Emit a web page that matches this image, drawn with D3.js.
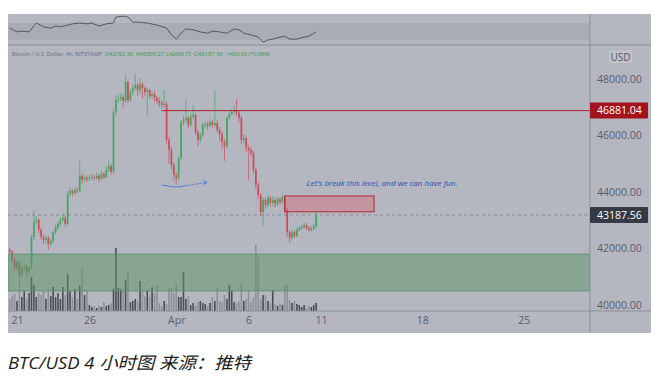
<!DOCTYPE html>

<head>
    <title>BTC/USD 4h</title>
    <meta charset="utf-8" />
</head>

<style>
    body {
        margin: 0;
        background-color: #ffffff;
    }

    svg text {
        font-family: "Open Sans", "Noto Sans", sans-serif;
    }

    .axis path,
    .axis line {
        display: none;
    }

    .axis text {
        fill: #5b5e69;
        font-size: 10.5px;
    }

    .caption {
        font-family: "Open Sans", "Noto Sans CJK SC", sans-serif !important;
        font-style: italic;
        font-size: 17px;
        fill: #1a1a1a;
    }
</style>

<body>
    <svg id="chart" width="668" height="385"></svg>
    <script src="https://d3js.org/d3.v7.min.js"></script>

    <script>
        // 4h candles, first one opens 2022-03-20 12:00 UTC
        var firstTime = Date.UTC(2022, 2, 20, 12);
        var firstOpen = 41950;

        var closes = [41880, 41590, 41310, 41520, 41060, 41310, 41380, 41170, 41310, 42410,
            42940, 43010, 42660, 42410, 42300, 42370, 42160, 42270, 42580, 42730,
            42870, 43010, 43080, 42870, 43930, 44040, 43960, 44070, 44040, 44570,
            44430, 44500, 44460, 44500, 44530, 44500, 44570, 44460, 44640, 44530,
            44780, 44920, 44710, 46830, 47260, 47290, 47360, 47220, 47890, 47260,
            47540, 47680, 47790, 47610, 47820, 47680, 47540, 47610, 47400, 47470,
            47330, 47220, 47150, 47080, 47120, 45840, 45490, 44960, 44600, 44500,
            45200, 46480, 46550, 46620, 46370, 46660, 46730, 46120, 45840, 46020,
            46370, 46410, 46340, 46480, 46370, 46440, 46200, 46050, 45770, 45630,
            46620, 46760, 46830, 46900, 46800, 46620, 45840, 45910, 45560, 45490,
            45380, 44780, 44250, 43890, 43290, 43720, 43540, 43790, 43610, 43720,
            43580, 43750, 43650, 43820, 43360, 42580, 42370, 42580, 42440, 42660,
            42730, 42760, 42830, 42730, 42660, 42700, 42782.38, 43187.56];

        var highs = [42050, 41950, 41700, 41600, 41600, 41400, 41500, 41450, 41400, 42500,
            43360, 43150, 43100, 42750, 42500, 42450, 42450, 42350, 42650, 42850,
            42950, 43100, 43250, 43150, 44050, 44150, 44100, 44180, 44150, 45100,
            44650, 44600, 44580, 44600, 44650, 44620, 44700, 44650, 44750, 44700,
            44900, 45100, 45000, 46950, 47400, 47450, 47500, 47450, 48150, 47950,
            47650, 47800, 48190, 47900, 48050, 47900, 47750, 47700, 47650, 47550,
            47600, 47400, 47350, 47250, 47610, 47200, 45950, 45600, 45050, 44700,
            45300, 46550, 46700, 47260, 46700, 46800, 47050, 46800, 46200, 46100,
            46450, 46500, 46500, 46600, 46550, 47610, 46550, 46300, 46150, 45850,
            46700, 46850, 46950, 47050, 47290, 46900, 46700, 46050, 46000, 45650,
            45600, 45450, 44850, 44350, 43950, 43800, 43800, 43900, 43850, 43850,
            43800, 43850, 43800, 43900, 43900, 43450, 42650, 42650, 42650, 42750,
            42800, 42850, 42950, 42900, 42800, 42800, 42900, 43305.27];

        var lows = [41800, 41500, 41200, 41250, 40600, 40950, 41200, 41000, 41100, 41250,
            42300, 42850, 42550, 42300, 42150, 42200, 41950, 42050, 42200, 42500,
            42650, 42800, 42950, 42750, 42800, 43850, 43850, 43900, 43950, 44000,
            44300, 44350, 44350, 44380, 44420, 44400, 44420, 44350, 44400, 44450,
            44480, 44700, 44600, 44650, 46700, 47150, 47200, 47000, 47150, 47150,
            47200, 47450, 47600, 47400, 47500, 47300, 47400, 46700, 47300, 47300,
            47200, 47100, 47000, 46950, 47000, 45700, 45000, 44800, 44400, 44250,
            44400, 45100, 46350, 46450, 46250, 46300, 46600, 46000, 45600, 45750,
            45950, 46250, 46200, 46300, 46250, 46300, 46100, 45800, 45500, 45100,
            45550, 46550, 46700, 46750, 46700, 46450, 45700, 45700, 45400, 44430,
            45250, 44650, 44100, 43750, 43150, 42800, 43400, 43450, 43500, 43500,
            43450, 43500, 43550, 43600, 43250, 42400, 42200, 42300, 42350, 42400,
            42600, 42650, 42700, 42650, 42600, 42600, 42650, 42698.15];

        var volumes = [12, 15, 17, 10, 22, 14, 20, 12, 18, 34,
            26, 14, 18, 16, 20, 12, 22, 15, 24, 14,
            18, 12, 24, 16, 37, 20, 14, 22, 12, 25,
            42, 16, 20, 6, 4, 5, 3, 5, 4, 9,
            5, 6, 8, 22, 63, 23, 22, 20, 31, 41,
            9, 10, 12, 10, 30, 20, 15, 21, 14, 24,
            18, 26, 8, 5, 10, 7, 23, 23, 18, 27,
            14, 14, 39, 12, 15, 6, 8, 5, 9, 10,
            8, 7, 5, 8, 14, 10, 23, 10, 9, 16,
            12, 26, 21, 9, 8, 10, 28, 10, 12, 21,
            9, 14, 66, 54, 12, 16, 16, 10, 8, 21,
            7, 5, 8, 6, 26, 26, 11, 8, 10, 7,
            6, 4, 6, 3, 5, 4, 6, 8];

        // oscillator pane (candle index, value)
        var oscAt = [0, 3, 5, 8, 10, 11, 14, 17, 19, 21, 24, 26, 29, 32, 34, 37, 40, 43, 44, 47,
            49, 51, 53, 57, 61, 65, 67, 69, 71, 73, 76, 79, 82, 84, 87, 90, 93, 95, 97, 100,
            103, 105, 107, 109, 112, 114, 116, 119, 122, 124, 127];
        var oscVals = [58, 49, 51, 49, 63, 70, 61, 58, 63, 61, 65, 68, 70, 68, 70, 63, 68, 70, 84, 86,
            84, 72, 72, 70, 65, 58, 42, 32, 46, 56, 54, 49, 46, 51, 49, 46, 56, 54, 46, 42,
            37, 25, 30, 32, 37, 39, 32, 32, 37, 39, 49];

        var priceTicks = [40000, 42000, 44000, 46000, 48000];
        var dateTicks = ["2022-03-21", "2022-03-26", "2022-04-01", "2022-04-06", "2022-04-11", "2022-04-18", "2022-04-25"];

        var resistance = 46881.04;
        var lastPrice = 43187.56;
        var greenZone = [40500, 41800];
        var redBox = [43300, 43860];
        var redBoxDates = ["2022-04-08T12:00Z", "2022-04-14T16:00Z"];
        var resistanceFrom = "2022-03-31T00:00Z";
        var arrowSolid = [["2022-03-31T00:00Z", 44250], ["2022-04-01T00:00Z", 44180], ["2022-04-01T18:00Z", 44230]];
        var arrowDash = [["2022-04-01T18:00Z", 44230], ["2022-04-02T12:00Z", 44290], ["2022-04-03T03:00Z", 44340]];
        var note = { t: "2022-04-10T00:00Z", p: 44200, text: "Let's break this level, and we can have fun." };

        var legendParts = [
            { x: 12, w: 90, text: "Bitcoin / U.S. Dollar, 4h, BITSTAMP", c: "#6a6d78" },
            { x: 105, w: 28, text: "O42782.38", c: "#2f9d4c" },
            { x: 136, w: 28, text: "H43305.27", c: "#2f9d4c" },
            { x: 166, w: 25, text: "L42698.15", c: "#2f9d4c" },
            { x: 194, w: 29, text: "C43187.56", c: "#2f9d4c" },
            { x: 227, w: 43, text: "+420.86 (+0.98%)", c: "#2f9d4c" }
        ];

        var candles = closes.map(function(c, i) {
            return {
                t: new Date(firstTime + i * 4 * 3600 * 1000),
                o: i ? closes[i - 1] : firstOpen,
                h: highs[i],
                l: lows[i],
                c: c,
                v: volumes[i]
            };
        });

        // layout
        var panel = { left: 8, right: 651, top: 14, bottom: 333 };
        var plotRight = 590,
            oscBottom = 45,
            dateLine = 311;

        var svg = d3.select("#chart");

        var x = d3.scaleUtc()
            .domain([new Date("2022-03-21"), new Date("2022-04-11")])
            .range([17, 321]);
        var y = d3.scaleLinear().domain([40000, 48000]).range([305, 79]);
        var yVol = d3.scaleLinear().domain([0, 66]).range([dateLine, dateLine - 66]);
        var yOsc = d3.scaleLinear().domain([30, 70]).range([40, 23]);

        var green = "#3fa85e",
            red = "#d04a5b";

        svg.append("rect")
            .attr("x", panel.left).attr("y", panel.top)
            .attr("width", panel.right - panel.left).attr("height", panel.bottom - panel.top)
            .attr("fill", "#b4b6c0");

        svg.append("defs").append("clipPath").attr("id", "plot")
            .append("rect")
            .attr("x", panel.left).attr("y", oscBottom)
            .attr("width", plotRight - panel.left).attr("height", dateLine - oscBottom);

        // oscillator pane
        svg.append("rect")
            .attr("x", panel.left).attr("y", yOsc(70))
            .attr("width", plotRight - panel.left).attr("height", yOsc(30) - yOsc(70))
            .attr("fill", "#a9acb6");

        svg.append("path")
            .datum(oscAt)
            .attr("fill", "none")
            .attr("stroke", "#4b4e58")
            .attr("stroke-width", 0.9)
            .attr("d", d3.line()
                .x(function(d) { return x(candles[d].t); })
                .y(function(d, i) { return yOsc(oscVals[i]); }));

        var plot = svg.append("g").attr("clip-path", "url(#plot)");

        // volume
        plot.selectAll(".vol")
            .data(candles)
            .enter().append("rect")
            .attr("class", "vol")
            .attr("x", function(d) { return x(d.t) - 0.8; })
            .attr("width", 1.6)
            .attr("y", function(d) { return yVol(d.v); })
            .attr("height", function(d) { return dateLine - yVol(d.v); })
            .attr("fill", function(d) { return d.c >= d.o ? "#4b4e57" : "#8e919a"; });

        // candles
        plot.selectAll(".wick")
            .data(candles)
            .enter().append("line")
            .attr("class", "wick")
            .attr("x1", function(d) { return x(d.t); })
            .attr("x2", function(d) { return x(d.t); })
            .attr("y1", function(d) { return y(d.h); })
            .attr("y2", function(d) { return y(d.l); })
            .attr("stroke", function(d) { return d.c >= d.o ? green : red; })
            .attr("stroke-width", 0.7);

        plot.selectAll(".body")
            .data(candles)
            .enter().append("rect")
            .attr("class", "body")
            .attr("x", function(d) { return x(d.t) - 0.85; })
            .attr("width", 1.7)
            .attr("y", function(d) { return y(Math.max(d.o, d.c)); })
            .attr("height", function(d) { return Math.max(0.8, Math.abs(y(d.o) - y(d.c))); })
            .attr("fill", function(d) { return d.c >= d.o ? green : red; });

        // support zone
        plot.append("rect")
            .attr("x", panel.left)
            .attr("y", y(greenZone[1]))
            .attr("width", plotRight - panel.left)
            .attr("height", y(greenZone[0]) - y(greenZone[1]))
            .attr("fill", "#5c9468")
            .attr("fill-opacity", 0.5)
            .attr("stroke", "#5f956b")
            .attr("stroke-width", 1);

        // resistance line
        plot.append("line")
            .attr("x1", x(new Date(resistanceFrom))).attr("x2", plotRight)
            .attr("y1", y(resistance)).attr("y2", y(resistance))
            .attr("stroke", "#b0222c").attr("stroke-width", 1);

        // last price line
        plot.append("line")
            .attr("x1", panel.left).attr("x2", plotRight)
            .attr("y1", y(lastPrice)).attr("y2", y(lastPrice))
            .attr("stroke", "#7b7e88").attr("stroke-width", 0.8)
            .attr("stroke-dasharray", "3,3");

        // target box
        plot.append("rect")
            .attr("x", x(new Date(redBoxDates[0])))
            .attr("y", y(redBox[1]))
            .attr("width", x(new Date(redBoxDates[1])) - x(new Date(redBoxDates[0])))
            .attr("height", y(redBox[0]) - y(redBox[1]))
            .attr("fill", "#d9646f")
            .attr("fill-opacity", 0.4)
            .attr("stroke", "#b42a35")
            .attr("stroke-width", 1);

        // blue arrow + note
        var arrowLine = d3.line()
            .x(function(d) { return x(new Date(d[0])); })
            .y(function(d) { return y(d[1]); })
            .curve(d3.curveCatmullRom);

        plot.append("path").datum(arrowSolid)
            .attr("d", arrowLine)
            .attr("fill", "none").attr("stroke", "#4f78d6").attr("stroke-width", 1);
        plot.append("path").datum(arrowDash)
            .attr("d", arrowLine)
            .attr("fill", "none").attr("stroke", "#4f78d6").attr("stroke-width", 1)
            .attr("stroke-dasharray", "2.5,1.5");

        var tip = arrowDash[arrowDash.length - 1];
        var tx = x(new Date(tip[0])),
            ty = y(tip[1]);
        plot.append("path")
            .attr("d", "M" + (tx - 3.5) + "," + (ty - 2.5) + "L" + tx + "," + ty + "L" + (tx - 3.5) + "," + (ty + 2))
            .attr("fill", "none").attr("stroke", "#4f78d6").attr("stroke-width", 1);

        svg.append("text")
            .attr("x", x(new Date(note.t)))
            .attr("y", y(note.p))
            .attr("font-size", "7px")
            .attr("font-style", "italic")
            .attr("fill", "#2a4fb5")
            .attr("textLength", 151)
            .attr("lengthAdjust", "spacingAndGlyphs")
            .text(note.text);

        // legend
        svg.selectAll(".legend")
            .data(legendParts)
            .enter().append("text")
            .attr("class", "legend")
            .attr("x", function(d) { return d.x; })
            .attr("y", 55.5)
            .attr("font-size", "5.8px")
            .attr("fill", function(d) { return d.c; })
            .attr("textLength", function(d) { return d.w; })
            .attr("lengthAdjust", "spacingAndGlyphs")
            .text(function(d) { return d.text; });

        // separators
        svg.append("line")
            .attr("x1", panel.left).attr("x2", panel.right)
            .attr("y1", oscBottom).attr("y2", oscBottom)
            .attr("stroke", "#8b8e98").attr("stroke-width", 1);
        svg.append("line")
            .attr("x1", panel.left).attr("x2", panel.right)
            .attr("y1", dateLine).attr("y2", dateLine)
            .attr("stroke", "#8b8e98").attr("stroke-width", 1);
        svg.append("line")
            .attr("x1", plotRight).attr("x2", plotRight)
            .attr("y1", panel.top).attr("y2", panel.bottom)
            .attr("stroke", "#8b8e98").attr("stroke-width", 1);

        // price axis
        svg.append("g")
            .attr("class", "axis")
            .attr("transform", "translate(" + (plotRight + 1) + ",0)")
            .call(d3.axisRight(y).tickValues(priceTicks).tickFormat(d3.format(".2f")).tickSize(0).tickPadding(6));

        svg.append("rect")
            .attr("x", 609).attr("y", 50).attr("width", 23).attr("height", 13).attr("rx", 2)
            .attr("fill", "#c0c2cb");
        svg.append("text")
            .attr("x", 620.5).attr("y", 60.5)
            .attr("text-anchor", "middle")
            .attr("font-size", "10px")
            .attr("fill", "#555862")
            .text("USD");

        var priceTags = [
            { p: resistance, fill: "#a3131d" },
            { p: lastPrice, fill: "#363a45" }
        ];
        var tags = svg.selectAll(".tag")
            .data(priceTags)
            .enter().append("g")
            .attr("class", "tag")
            .attr("transform", function(d) { return "translate(" + plotRight + "," + y(d.p) + ")"; });
        tags.append("rect")
            .attr("x", 0).attr("y", -8).attr("width", 58).attr("height", 16).attr("rx", 1)
            .attr("fill", function(d) { return d.fill; });
        tags.append("text")
            .attr("x", 7).attr("y", 3.8)
            .attr("font-size", "10.5px")
            .attr("fill", "#ffffff")
            .text(function(d) { return d3.format(".2f")(d.p); });

        // time axis
        svg.append("g")
            .attr("class", "axis")
            .attr("transform", "translate(0," + dateLine + ")")
            .call(d3.axisBottom(x)
                .tickValues(dateTicks.map(function(d) { return new Date(d); }))
                .tickFormat(function(d) { return d.getUTCDate() === 1 ? "Apr" : d.getUTCDate(); })
                .tickSize(0).tickPadding(6));

        // caption
        svg.append("text")
            .attr("class", "caption")
            .attr("x", 8)
            .attr("y", 369)
            .attr("textLength", 243)
            .attr("lengthAdjust", "spacingAndGlyphs")
            .text("BTC/USD 4 小时图 来源：推特");
    </script>
</body>
